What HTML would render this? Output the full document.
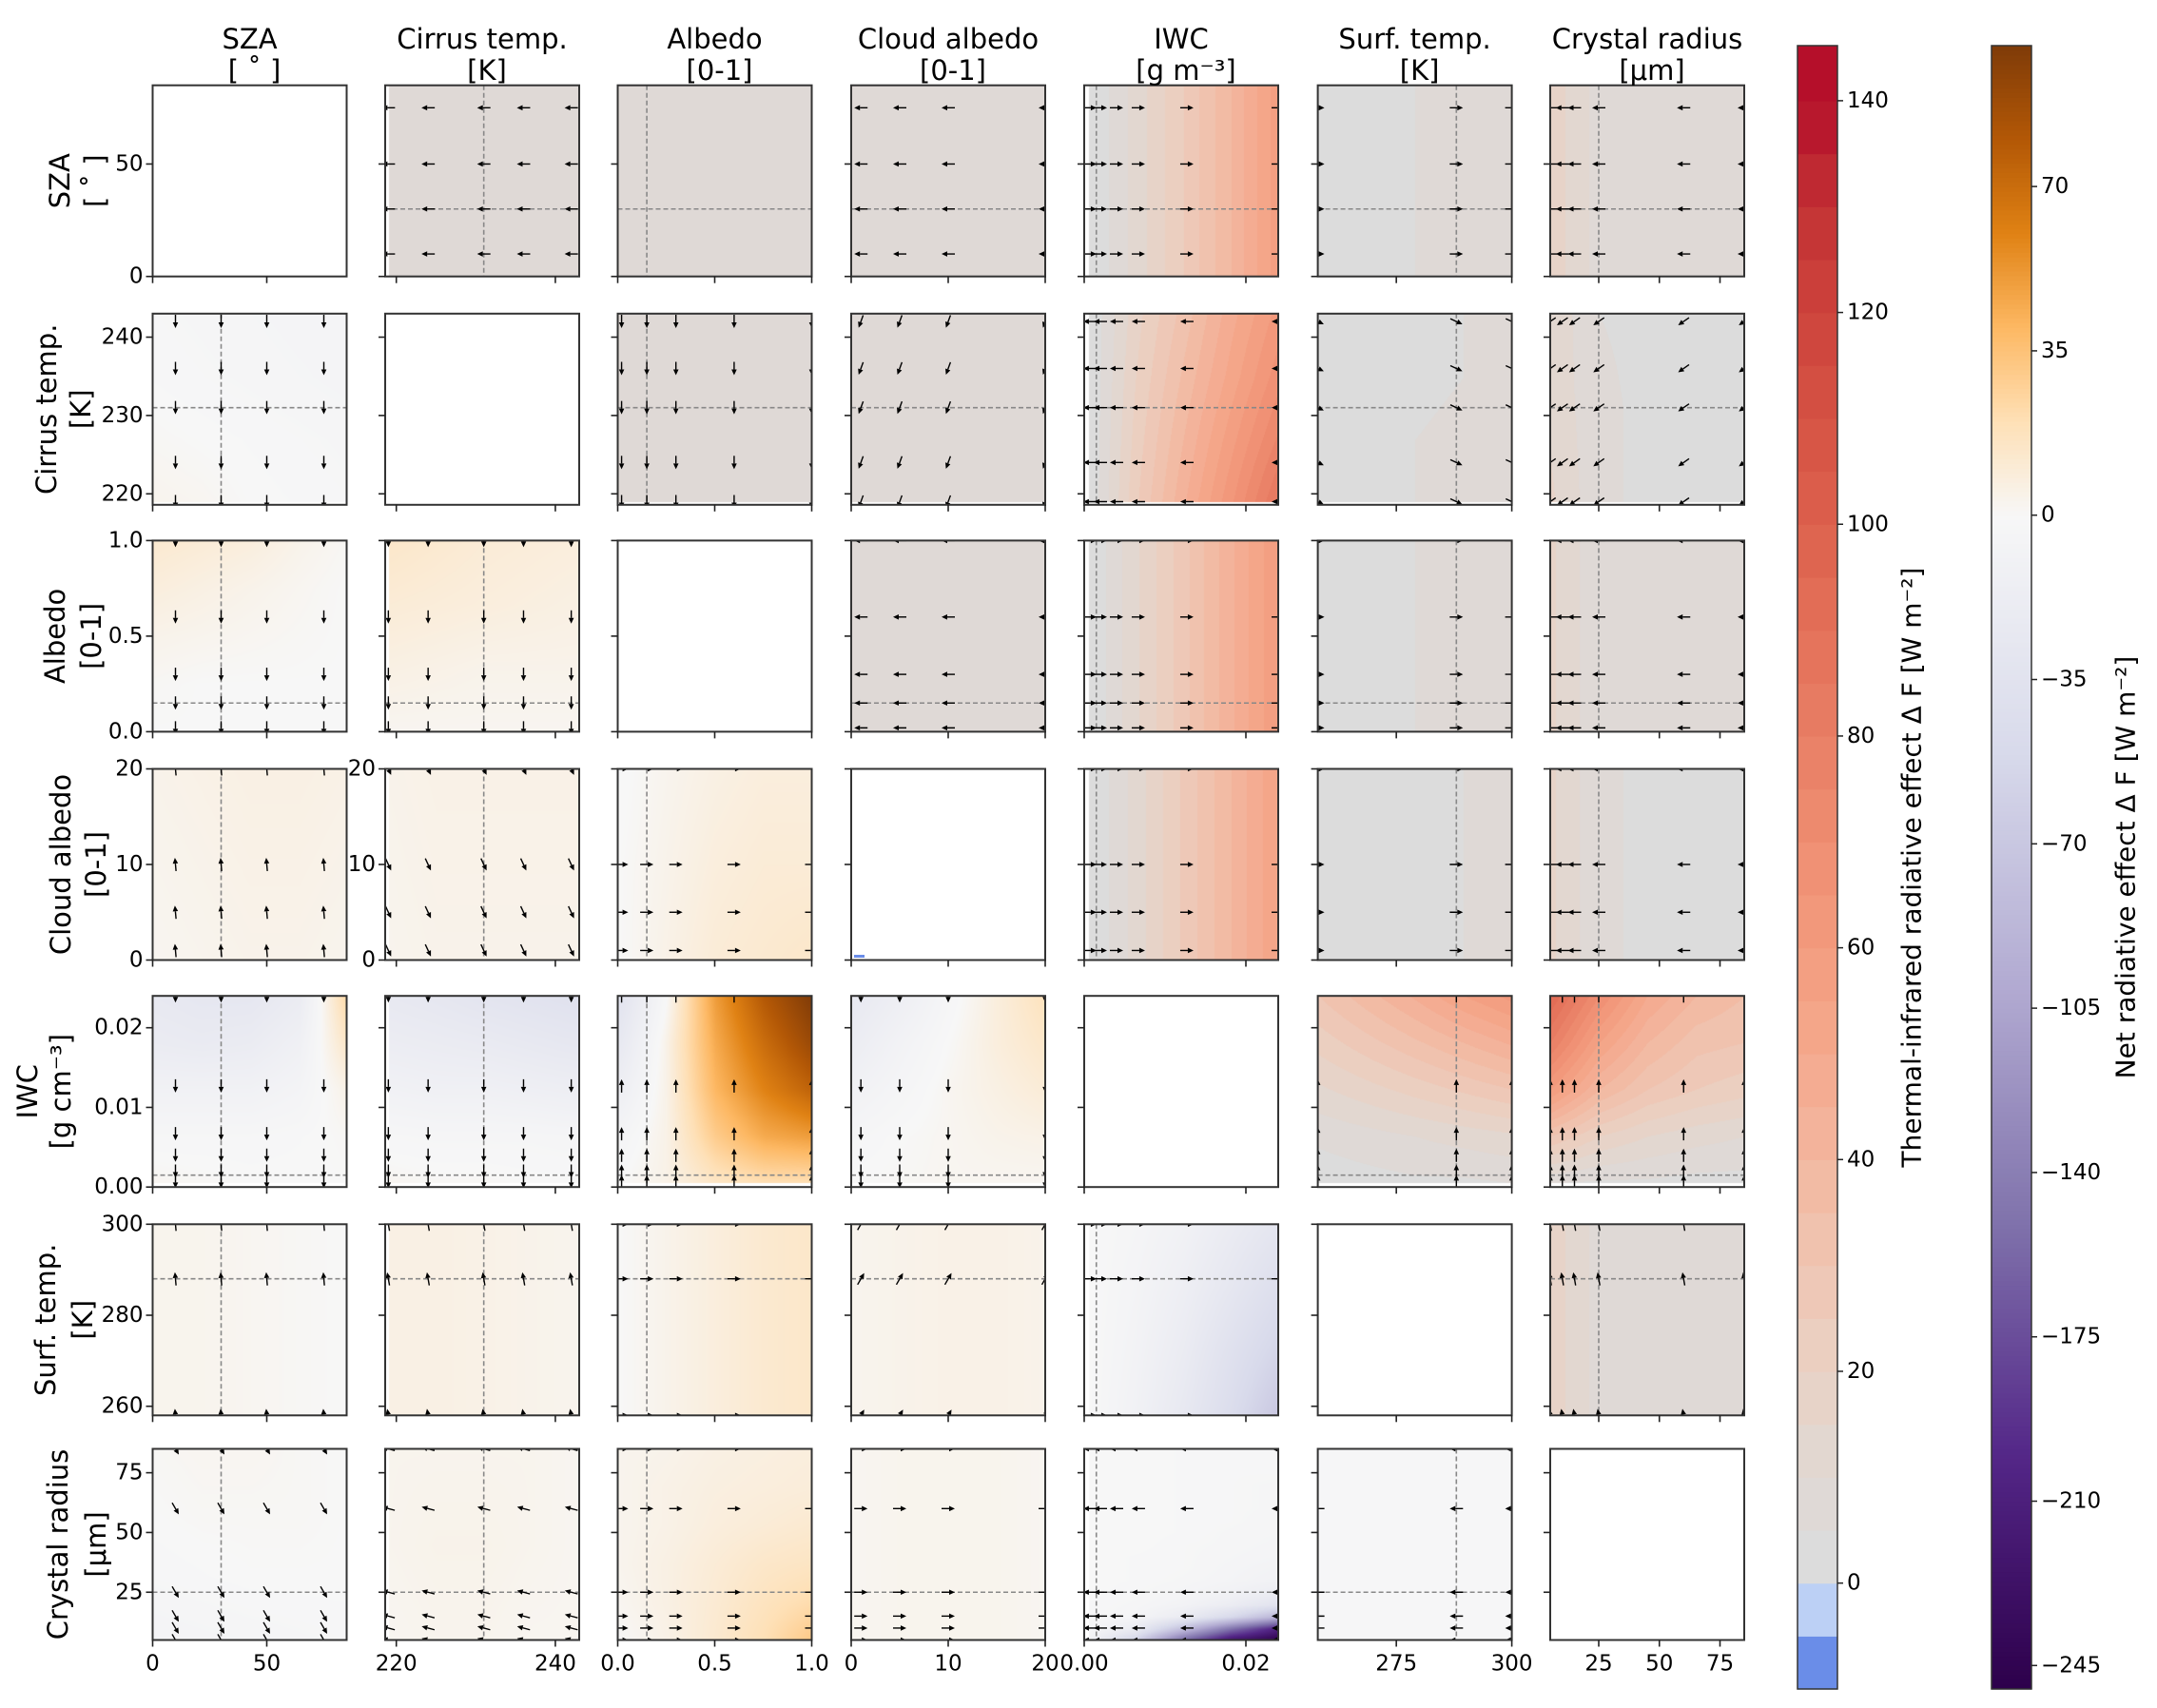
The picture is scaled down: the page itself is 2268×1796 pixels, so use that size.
<!DOCTYPE html>
<html><head><meta charset="utf-8">
<style>
html,body{margin:0;padding:0;background:#fff;}
#wrap{position:relative;width:2268px;height:1796px;overflow:hidden;font-family:"DejaVu Sans","Liberation Sans",sans-serif;}
canvas{position:absolute;}
svg{position:absolute;left:0;top:0;}
</style></head>
<body>
<div id="wrap">
<svg id="svg" width="2268" height="1796" xmlns="http://www.w3.org/2000/svg"></svg>
</div>
<script>
// ---------- data ----------
const varNames = ['SZA','Cirrus temp.','Albedo','Cloud albedo','IWC','Surf. temp.','Crystal radius'];
const varUnits = ['[ \u02DA ]','[K]','[0-1]','[0-1]','[g m\u207B\u00B3]','[K]','[\u03BCm]'];
const rowUnits = ['[ \u02DA ]','[K]','[0-1]','[0-1]','[g cm\u207B\u00B3]','[K]','[\u03BCm]'];
const axisMin = [0,218.6,0,0,0,258,5];
const axisMax = [85,243,1,20,0.024,300,85];
const dataMin = [0,219,0,0,0.0005,258,5];
const dataMax = [85,243,1,20,0.024,300,85];
const refVals = [30,231,0.15,null,0.0015,288,25];
const yTicks = [[0,50],[220,230,240],[0,0.5,1],[0,10,20],[0,0.01,0.02],[260,280,300],[25,50,75]];
const yTickLabels = [['0','50'],['220','230','240'],['0.0','0.5','1.0'],['0','10','20'],['0.00','0.01','0.02'],['260','280','300'],['25','50','75']];
const xTicks = [[0,50],[220,240],[0,0.5,1],[0,10,20],[0,0.02],[275,300],[25,50,75]];
const xTickLabels = [['0','50'],['220','240'],['0.0','0.5','1.0'],['0','10','20'],['0.00','0.02'],['275','300'],['25','50','75']];
const samples = [[10,30,50,75],[219,224,231,236,242],[0.02,0.15,0.3,0.6,1.0],[1,5,10,20],[0.0007,0.002,0.004,0.0067,0.0127,0.024],[258,288,300],[5,10,15,25,60,85]];

// thermal (upper triangle) grids, rows top->bottom
const thermalGrids = {
 '0-1':[[5]], '0-2':[[5]], '0-3':[[5]],
 '0-4':[[0,12,25,40,58]], '0-5':[[3,4,5,5,6]], '0-6':[[18,8,5,5,5]],
 '1-2':[[5]], '1-3':[[5]],
 '1-4':[[0,18,32,48,62],[0,20,36,52,68],[0,22,40,58,76],[0,24,44,64,86]],
 '1-5':[[3,3,4,5,5],[3,3,4,5,6],[3,4,5,6,8],[4,4,5,7,10]],
 '1-6':[[14,5,4,4,4],[14,6,4,4,4],[16,6,4,4,4]],
 '2-3':[[5]], '2-4':[[0,14,28,44,60]], '2-5':[[3,4,5,5,6]], '2-6':[[16,6,5,5,5]],
 '3-4':[[0,12,26,40,55]], '3-5':[[3,3,4,5,5]], '3-6':[[16,6,4,4,4]],
 '4-5':[[30,38,46,55,62],[22,28,34,40,46],[14,18,22,26,30],[6,8,10,12,14],[2,3,4,4,5]],
 '4-6':[[95,70,50,40,35],[80,55,40,32,30],[60,40,30,25,22],[30,20,15,12,10],[5,4,4,3,3]],
 '5-6':[[18,8,5,5,5]]
};
// net (lower triangle) grids
const netGrids = {
 '1-0':[[-2,-3,-4,-5,-5],[-1,-2,-3,-4,-5],[1,0,-1,-2,-3],[3,2,0,-1,-2]],
 '2-0':[[12,10,8,4,1],[8,6,4,2,0],[4,3,2,1,0],[1,0,0,0,0],[0,0,0,0,0]],
 '2-1':[[14,12,10,9,8],[10,9,8,7,6],[6,5,4,4,4],[2,2,2,2,2]],
 '3-0':[[4,5,6,6,5],[3,4,5,5,4],[2,3,4,4,3]],
 '3-1':[[4,5,5,5,5],[3,4,4,4,4]],
 '3-2':[[-1,3,6,8,8],[0,4,8,10,10],[0,5,10,12,14]],
 '4-0':[[-25,-28,-28,-20,25],[-20,-22,-20,-12,15],[-10,-10,-10,-6,5],[-2,-2,-2,-1,1],[2,1,0,0,0]],
 '4-1':[[-25,-28,-32,-35,-38],[-18,-20,-22,-25,-28],[-10,-12,-12,-14,-16],[-2,-3,-3,-3,-4],[2,1,1,0,0]],
 '4-2':[[-35,0,50,80,100],[-25,5,45,70,90],[-15,5,40,60,75],[-5,5,30,45,50],[0,5,15,20,20]],
 '4-3':[[-25,-15,-3,8,18],[-18,-8,0,8,14],[-10,-4,2,6,10],[-3,0,2,4,5],[0,1,2,2,2]],
 '5-0':[[3,3,2,1,0]], '5-1':[[6,6,5,4,3]], '5-2':[[0,4,8,12,14]], '5-3':[[3,4,5,5,4]],
 '5-4':[[0,-4,-10,-20,-30],[0,-6,-15,-28,-42],[0,-8,-20,-38,-55],[0,-10,-25,-45,-70]],
 '6-0':[[1,2,2,1,0],[0,1,1,1,0],[-2,-1,0,0,0],[-6,-5,-4,-3,-2]],
 '6-1':[[3,3,3,3,2],[3,4,4,3,2],[2,3,3,2,2]],
 '6-2':[[3,4,6,7,8],[3,5,7,8,9],[3,5,8,10,12],[3,6,10,14,16],[2,6,11,17,22],[0,5,12,20,32]],
 '6-3':[[2,3,3,3,2]],
 '6-4':[[0,0,-1,-1,-2],[0,0,-1,-1,-2],[0,0,-1,-2,-2],[0,0,-1,-2,-3],[0,0,-1,-2,-3],[0,0,-1,-2,-3],[0,0,-1,-2,-4],[0,0,-1,-3,-4],[0,0,-2,-3,-5],[0,-1,-2,-4,-6],[0,-1,-2,-5,-8],[0,-1,-3,-6,-10],[0,-2,-5,-10,-18],[-1,-3,-8,-18,-35],[-1,-5,-20,-50,-90],[-3,-20,-80,-150,-210],[-8,-60,-160,-230,-250]],
 '6-5':[[-1,-1,-2,-2,-2]]
};
// arrow direction (degrees, 0=right, 90=up) per panel
const arrowDirs = {
 '0-1':180,'0-3':180,'0-4':0,'0-5':0,'0-6':180,
 '1-0':-90,'1-2':-90,'1-3':-110,'1-4':180,'1-5':-25,'1-6':-145,
 '2-0':-90,'2-1':-90,'2-3':180,'2-4':0,'2-5':0,'2-6':180,
 '3-0':95,'3-1':-65,'3-2':0,'3-4':0,'3-5':0,'3-6':180,
 '4-0':-90,'4-1':-90,'4-2':90,'4-3':-90,'4-5':90,'4-6':90,
 '5-0':95,'5-1':100,'5-2':0,'5-3':60,'5-4':0,'5-6':100,
 '6-0':-60,'6-1':165,'6-2':0,'6-3':0,'6-4':180,'6-5':180
};
const thermalTicks = [0,20,40,60,80,100,120,140];
const netTicks = [70,35,0,-35,-70,-105,-140,-175,-210,-245];

// ---------- layout ----------
const colL = [160.5,405,649.5,895,1140,1385.6,1630];
const rowT = [89.7,329.8,568.4,808.5,1047.2,1287.3,1523.5];
const PW = 204, PH = 201;
const NS = 'http://www.w3.org/2000/svg';
const svg = document.getElementById('svg');
const wrap = document.getElementById('wrap');

function hex(h){return [parseInt(h.substr(1,2),16),parseInt(h.substr(3,2),16),parseInt(h.substr(5,2),16)];}
function interpStops(stops,t){
  t=Math.max(0,Math.min(1,t));
  for(let i=0;i<stops.length-1;i++){
    const a=stops[i],b=stops[i+1];
    if(t<=b[0]){const f=(t-a[0])/(b[0]-a[0]||1);const ca=hex(a[1]),cb=hex(b[1]);
      return [0,1,2].map(k=>Math.round(ca[k]+(cb[k]-ca[k])*f));}
  }
  return hex(stops[stops.length-1][1]);
}
const posStops=[[0,'#f7f7f7'],[0.2,'#fee0b6'],[0.4,'#fdb863'],[0.6,'#e08214'],[0.8,'#b35806'],[1,'#7f3b08']];
const negStops=[[0,'#f7f7f7'],[0.2,'#d8daeb'],[0.4,'#b2abd2'],[0.6,'#8073ac'],[0.8,'#542788'],[1,'#2d004b']];
function netColor(v){return v>=0?interpStops(posStops,v/100):interpStops(negStops,-v/250);}
const thStops=[[0,'#dcdcdc'],[10/140,'#e2d7d0'],[20/140,'#ebcfc1'],[30/140,'#f0c3af'],[40/140,'#f3b49c'],[50/140,'#f4a78a'],[60/140,'#f29a7c'],[70/140,'#ee8c70'],[80/140,'#e87d64'],[90/140,'#e36f58'],[100/140,'#dc604c'],[110/140,'#d55244'],[120/140,'#cd433c'],[130/140,'#c23134'],[1,'#b50f2a']];
function thermalColor(v){
  const q=Math.floor(v/5)*5+2.5;
  if(q<-5) return hex('#6a8de8');
  if(q<0) return hex('#bcd0f5');
  return interpStops(thStops,(q-2.5)/137.5);
}
function sampleGrid(g,u,v){
  const R=g.length,C=g[0].length;
  const fy=v*(R-1),fx=u*(C-1);
  const y0=Math.floor(fy),x0=Math.floor(fx);
  const y1=Math.min(R-1,y0+1),x1=Math.min(C-1,x0+1);
  const ty=fy-y0,tx=fx-x0;
  const a=g[y0][x0]*(1-tx)+g[y0][x1]*tx;
  const b=g[y1][x0]*(1-tx)+g[y1][x1]*tx;
  return a*(1-ty)+b*ty;
}
function el(tag,attrs,parent){const e=document.createElementNS(NS,tag);for(const k in attrs)e.setAttribute(k,attrs[k]);(parent||svg).appendChild(e);return e;}
function txt(s,attrs,parent){const e=el('text',attrs,parent);e.textContent=s;return e;}
function xScale(c,val){return colL[c]+(val-axisMin[c])/(axisMax[c]-axisMin[c])*PW;}
function yScale(r,val){return rowT[r]+PH-(val-axisMin[r])/(axisMax[r]-axisMin[r])*PH;}

const defs=el('defs',{});
for(let r=0;r<7;r++){
  for(let c=0;c<7;c++){
    const key=r+'-'+c;
    const g=el('g',{});
    
    
    const grid = thermalGrids[key] || netGrids[key];
    if(grid){
      const cv=document.createElement('canvas');
      
      
      const W=PW,H=PH;
      cv.width=W;cv.height=H;
      cv.style.left=colL[c]+'px';cv.style.top=rowT[r]+'px';
      const ctx=cv.getContext('2d');const img=ctx.createImageData(W,H);
      const x0=xScale(c,dataMin[c])-colL[c], x1=xScale(c,dataMax[c])-colL[c];
      const y0=yScale(r,dataMax[r])-rowT[r], y1=yScale(r,dataMin[r])-rowT[r];
      const isT=!!thermalGrids[key];
      for(let py=0;py<H;py++)for(let px=0;px<W;px++){
        const i=(py*W+px)*4;
        if(px<x0||px>x1||py<y0||py>y1){img.data[i]=255;img.data[i+1]=255;img.data[i+2]=255;img.data[i+3]=255;continue;}
        const u=(px-x0)/(x1-x0||1),v=(py-y0)/(y1-y0||1);
        const val=sampleGrid(grid,u,v);
        const col=isT?thermalColor(val):netColor(val);
        img.data[i]=col[0];img.data[i+1]=col[1];img.data[i+2]=col[2];img.data[i+3]=255;
      }
      ctx.putImageData(img,0,0);
      wrap.insertBefore(cv,svg);
    }
    const cp=el('clipPath',{id:'cp'+key},defs);
    el('rect',{x:colL[c],y:rowT[r],width:PW,height:PH},cp);
    const inner=el('g',{'clip-path':'url(#cp'+key+')'},g);
    if(r!==c){
      if(refVals[c]!==null){
        const l=el('line',{x1:xScale(c,refVals[c]),x2:xScale(c,refVals[c]),y1:rowT[r],y2:rowT[r]+PH,stroke:'#888','stroke-width':1.6,'stroke-dasharray':'5,3'},inner);
        
        
      }
      if(refVals[r]!==null){
        const l=el('line',{x1:colL[c],x2:colL[c]+PW,y1:yScale(r,refVals[r]),y2:yScale(r,refVals[r]),stroke:'#888','stroke-width':1.6,'stroke-dasharray':'5,3'},inner);
        
        
      }
      if(arrowDirs[key]!==undefined){
        const a=arrowDirs[key]*Math.PI/180;const L=14;
        const dx=Math.cos(a),dy=-Math.sin(a);
        for(const sx of samples[c])for(const sy of samples[r]){
          const cx=xScale(c,sx),cy=yScale(r,sy);
          const tx=cx+dx*L/2,ty=cy+dy*L/2;
          const bx=cx-dx*L/2,by=cy-dy*L/2;
          const hx=tx-dx*6,hy=ty-dy*6;const nx=-dy,ny=dx;
          const ar=el('g',{},inner);
          
          
          el('line',{x1:bx,y1:by,x2:hx,y2:hy,stroke:'#000','stroke-width':1.4},ar);
          el('polygon',{points:`${tx},${ty} ${hx+nx*2.8},${hy+ny*2.8} ${hx-nx*2.8},${hy-ny*2.8}`,fill:'#000'},ar);
        }
      }
    }
    if(key==='3-3'){
      const l=el('line',{x1:colL[3]+3,x2:colL[3]+14,y1:rowT[3]+PH-4,y2:rowT[3]+PH-4,stroke:'#6a8de8','stroke-width':3},inner);
      
      
    }
    const fr=el('rect',{x:colL[c],y:rowT[r],width:PW,height:PH,fill:'none',stroke:'#333','stroke-width':2},g);
    
    
    yTicks[r].forEach((t,i)=>{
      const y=yScale(r,t);
      el('line',{x1:colL[c]-7,x2:colL[c],y1:y,y2:y,stroke:'#222','stroke-width':1.6},g);
      if(c===0||key==='3-1'){
        const tl=txt(yTickLabels[r][i],{x:colL[c]-10,y:y,'font-size':23,'text-anchor':'end','dominant-baseline':'central',fill:'#000'},g);
        
        
      }
    });
    xTicks[c].forEach((t,i)=>{
      const x=xScale(c,t);
      el('line',{x1:x,x2:x,y1:rowT[r]+PH,y2:rowT[r]+PH+7,stroke:'#222','stroke-width':1.6},g);
      if(r===6){
        const tl=txt(xTickLabels[c][i],{x:x,y:rowT[r]+PH+32,'font-size':23,'text-anchor':'middle',fill:'#000'},g);
        
        
      }
    });
  }
}
for(let c=0;c<7;c++){
  const cx=colL[c]+PW/2;
  const t1=txt(varNames[c],{x:cx,y:51,'font-size':29,'text-anchor':'middle'});
  
  
  const t2=txt(varUnits[c],{x:cx+5,y:84,'font-size':29,'text-anchor':'middle'});
  
  
}
const rowLabelX1=[63,49,58,64,29,48,61];
const rowLabelX2=[100,85,96,101,64,87,101];
for(let r=0;r<7;r++){
  const cy=rowT[r]+PH/2;
  const a=txt(varNames[r],{x:rowLabelX1[r],y:cy,'font-size':29,'text-anchor':'middle','dominant-baseline':'central',transform:`rotate(-90 ${rowLabelX1[r]} ${cy})`});
  
  
  const b=txt(rowUnits[r],{x:rowLabelX2[r],y:cy,'font-size':29,'text-anchor':'middle','dominant-baseline':'central',transform:`rotate(-90 ${rowLabelX2[r]} ${cy})`});
  
  
}
const cb1={x:1890,w:42,top:48,bot:1776,vmin:-10,vmax:145.2};
function cb1Y(v){return cb1.bot-(v-cb1.vmin)/(cb1.vmax-cb1.vmin)*(cb1.bot-cb1.top);}
const g1=el('g',{});


for(let v=-10;v<145;v+=5){
  const col=thermalColor(v+0.01);
  const yTop=v+5>=145?cb1.top:cb1Y(v+5),yB=cb1Y(v);
  el('rect',{x:cb1.x,y:yTop,width:cb1.w,height:yB-yTop+0.6,fill:`rgb(${col})`},g1);
}
el('rect',{x:cb1.x,y:cb1.top,width:cb1.w,height:cb1.bot-cb1.top,fill:'none',stroke:'#333','stroke-width':1.5},g1);
thermalTicks.forEach(t=>{
  const y=cb1Y(t);
  el('line',{x1:cb1.x+cb1.w,x2:cb1.x+cb1.w+6,y1:y,y2:y,stroke:'#222','stroke-width':1.5},g1);
  const tl=txt(String(t),{x:cb1.x+cb1.w+10,y:y,'font-size':23,'dominant-baseline':'central'},g1);
  
  
});
const l1=txt('Thermal-infrared radiative effect \u0394 F [W m\u207B\u00B2]',{x:2010,y:912,'font-size':28,'text-anchor':'middle','dominant-baseline':'central',transform:'rotate(-90 2010 912)'});


const cb2={x:2094,w:42,top:48,bot:1776,vmin:-250,vmax:100};
function cb2Y(v){return cb2.bot-(v-cb2.vmin)/(cb2.vmax-cb2.vmin)*(cb2.bot-cb2.top);}
const g2=el('g',{});


for(let v=cb2.vmin;v<cb2.vmax;v+=1){
  const col=netColor(v+0.5);
  el('rect',{x:cb2.x,y:cb2Y(v+1),width:cb2.w,height:cb2Y(v)-cb2Y(v+1)+0.6,fill:`rgb(${col})`},g2);
}
el('rect',{x:cb2.x,y:cb2.top,width:cb2.w,height:cb2.bot-cb2.top,fill:'none',stroke:'#333','stroke-width':1.5},g2);
netTicks.forEach(t=>{
  const y=cb2Y(t);
  el('line',{x1:cb2.x+cb2.w,x2:cb2.x+cb2.w+6,y1:y,y2:y,stroke:'#222','stroke-width':1.5},g2);
  const tl=txt(String(t).replace('-','\u2212'),{x:cb2.x+cb2.w+10,y:y,'font-size':23,'dominant-baseline':'central'},g2);
  
  
});
const l2=txt('Net radiative effect \u0394 F [W m\u207B\u00B2]',{x:2235,y:912,'font-size':28,'text-anchor':'middle','dominant-baseline':'central',transform:'rotate(-90 2235 912)'});


</script>
</body></html>
